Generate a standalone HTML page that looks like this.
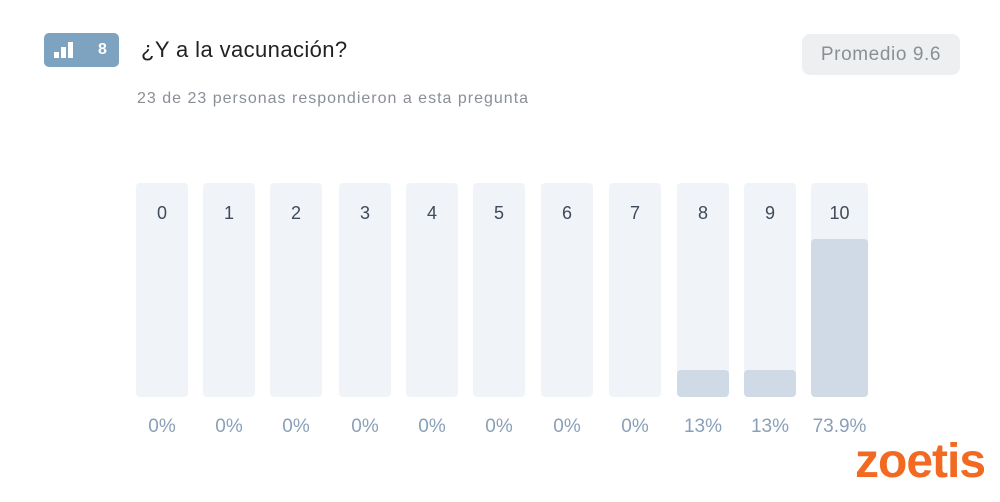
<!DOCTYPE html><html><head><style>
body{margin:0;width:1000px;height:502px;background:#fff;font-family:"Liberation Sans",sans-serif;position:relative;overflow:hidden}
.a{position:absolute}
.bar{position:absolute;top:183px;height:214px;background:#f0f4f9;border-radius:4px;overflow:hidden}
.bar span{position:absolute;top:20px;left:0;right:0;text-align:center;font-size:18px;color:#3f4a5a}
.bar i{position:absolute;left:0;right:0;bottom:0;background:#cfdae6;border-radius:4px}
.p{position:absolute;top:416px;font-size:19px;color:#8aa0b8;text-align:center}
</style></head><body>
<div class="a" style="left:44px;top:33px;width:75px;height:34px;background:#7ea3c0;border-radius:5px">
<div class="a" style="left:10px;top:19px;width:5px;height:6px;background:#fff"></div>
<div class="a" style="left:17px;top:14px;width:5px;height:11px;background:#fff"></div>
<div class="a" style="left:24px;top:9px;width:5px;height:16px;background:#fff"></div>
<div class="a" style="left:54px;top:8px;color:#fff;font-size:16px;font-weight:bold">8</div>
</div>
<div class="a" style="left:141px;top:37px;font-size:22px;color:#222;letter-spacing:0.4px">¿Y a la vacunación?</div>
<div class="a" style="left:137px;top:90px;font-size:16px;color:#8a8f96;letter-spacing:1px">23 de 23 personas respondieron a esta pregunta</div>
<div class="a" style="left:802px;top:34px;width:158px;height:41px;background:#eeeff1;border-radius:8px;text-align:center;line-height:41px;font-size:19px;letter-spacing:0.6px;color:#8a8f96">Promedio 9.6</div>
<div class="bar" style="left:136px;width:52px"><span>0</span></div>
<div class="bar" style="left:203px;width:52px"><span>1</span></div>
<div class="bar" style="left:270px;width:52px"><span>2</span></div>
<div class="bar" style="left:339px;width:52px"><span>3</span></div>
<div class="bar" style="left:406px;width:52px"><span>4</span></div>
<div class="bar" style="left:473px;width:52px"><span>5</span></div>
<div class="bar" style="left:541px;width:52px"><span>6</span></div>
<div class="bar" style="left:609px;width:52px"><span>7</span></div>
<div class="bar" style="left:677px;width:52px"><span>8</span><i style="height:27px"></i></div>
<div class="bar" style="left:744px;width:52px"><span>9</span><i style="height:27px"></i></div>
<div class="bar" style="left:811px;width:57px"><span>10</span><i style="height:158px"></i></div>
<div class="p" style="left:136px;width:52px">0%</div>
<div class="p" style="left:203px;width:52px">0%</div>
<div class="p" style="left:270px;width:52px">0%</div>
<div class="p" style="left:339px;width:52px">0%</div>
<div class="p" style="left:406px;width:52px">0%</div>
<div class="p" style="left:473px;width:52px">0%</div>
<div class="p" style="left:541px;width:52px">0%</div>
<div class="p" style="left:609px;width:52px">0%</div>
<div class="p" style="left:677px;width:52px">13%</div>
<div class="p" style="left:744px;width:52px">13%</div>
<div class="p" style="left:804px;width:71px">73.9%</div>
<div class="a" style="left:855px;top:436px;font-size:48px;font-weight:bold;color:#f26a21;letter-spacing:-1px;line-height:52px">zoetis</div>
</body></html>
